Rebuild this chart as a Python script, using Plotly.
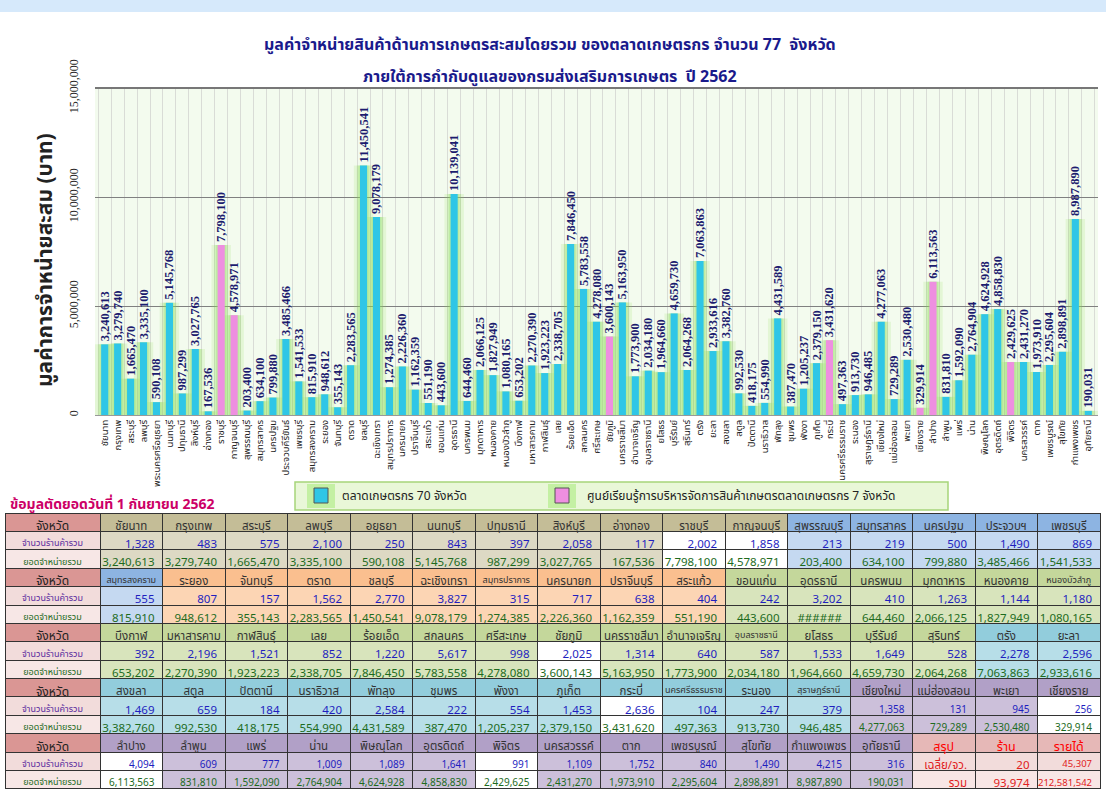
import plotly.graph_objects as go

W, H = 1106, 801

axis_names = ["ชัยนาท", "กรุงเทพ", "สระบุรี", "ลพบุรี", "พระนครศรีอยุธยา", "นนทบุรี", "ปทุมธานี", "สิงห์บุรี",
              "อ่างทอง", "ราชบุรี", "กาญจนบุรี", "สุพรรณบุรี", "สมุทรสาคร", "นครปฐม", "ประจวบคีรีขันธ์", "เพชรบุรี",
              "สมุทรสงคราม", "ระยอง", "จันทบุรี", "ตราด", "ชลบุรี", "ฉะเชิงเทรา", "สมุทรปราการ", "นครนายก",
              "ปราจีนบุรี", "สระแก้ว", "ขอนแก่น", "อุดรธานี", "นครพนม", "มุกดาหาร", "หนองคาย", "หนองบัวลำภู",
              "บึงกาฬ", "มหาสารคาม", "กาฬสินธุ์", "เลย", "ร้อยเอ็ด", "สกลนคร", "ศรีสะเกษ", "ชัยภูมิ",
              "นครราชสีมา", "อำนาจเจริญ", "อุบลราชธานี", "ยโสธร", "บุรีรัมย์", "สุรินทร์", "ตรัง", "ยะลา",
              "สงขลา", "สตูล", "ปัตตานี", "นราธิวาส", "พัทลุง", "ชุมพร", "พังงา", "ภูเก็ต",
              "กระบี่", "นครศรีธรรมราช", "ระนอง", "สุราษฎร์ธานี", "เชียงใหม่", "แม่ฮ่องสอน", "พะเยา", "เชียงราย",
              "ลำปาง", "ลำพูน", "แพร่", "น่าน", "พิษณุโลก", "อุตรดิตถ์", "พิจิตร", "นครสวรรค์",
              "ตาก", "เพชรบูรณ์", "สุโขทัย", "กำแพงเพชร", "อุทัยธานี"]

table_names = ["ชัยนาท", "กรุงเทพ", "สระบุรี", "ลพบุรี", "อยุธยา", "นนทบุรี", "ปทุมธานี", "สิงห์บุรี",
               "อ่างทอง", "ราชบุรี", "กาญจนบุรี", "สุพรรณบุรี", "สมุทรสาคร", "นครปฐม", "ประจวบฯ", "เพชรบุรี",
               "สมุทรสงคราม", "ระยอง", "จันทบุรี", "ตราด", "ชลบุรี", "ฉะเชิงเทรา", "สมุทรปราการ", "นครนายก",
               "ปราจีนบุรี", "สระแก้ว", "ขอนแก่น", "อุดรธานี", "นครพนม", "มุกดาหาร", "หนองคาย", "หนองบัวลำภู",
               "บึงกาฬ", "มหาสารคาม", "กาฬสินธุ์", "เลย", "ร้อยเอ็ด", "สกลนคร", "ศรีสะเกษ", "ชัยภูมิ",
               "นครราชสีมา", "อำนาจเจริญ", "อุบลราชธานี", "ยโสธร", "บุรีรัมย์", "สุรินทร์", "ตรัง", "ยะลา",
               "สงขลา", "สตูล", "ปัตตานี", "นราธิวาส", "พัทลุง", "ชุมพร", "พังงา", "ภูเก็ต",
               "กระบี่", "นครศรีธรรมราช", "ระนอง", "สุราษฎร์ธานี", "เชียงใหม่", "แม่ฮ่องสอน", "พะเยา", "เชียงราย",
               "ลำปาง", "ลำพูน", "แพร่", "น่าน", "พิษณุโลก", "อุตรดิตถ์", "พิจิตร", "นครสวรรค์",
               "ตาก", "เพชรบูรณ์", "สุโขทัย", "กำแพงเพชร", "อุทัยธานี"]

shops = [1328, 483, 575, 2100, 250, 843, 397, 2058, 117, 2002, 1858, 213, 219, 500, 1490, 869,
         555, 807, 157, 1562, 2770, 3827, 315, 717, 638, 404, 242, 3202, 410, 1263, 1144, 1180,
         392, 2196, 1521, 852, 1220, 5617, 998, 2025, 1314, 640, 587, 1533, 1649, 528, 2278, 2596,
         1469, 659, 184, 420, 2584, 222, 554, 1453, 2636, 104, 247, 379, 1358, 131, 945, 256,
         4094, 609, 777, 1009, 1089, 1641, 991, 1109, 1752, 840, 1490, 4215, 316]

sales = [3240613, 3279740, 1665470, 3335100, 590108, 5145768, 987299, 3027765, 167536, 7798100, 4578971,
         203400, 634100, 799880, 3485466, 1541533,
         815910, 948612, 355143, 2283565, 11450541, 9078179, 1274385, 2226360, 1162359, 551190, 443600,
         10139041, 644460, 2066125, 1827949, 1080165,
         653202, 2270390, 1923223, 2338705, 7846450, 5783558, 4278080, 3600143, 5163950, 1773900, 2034180,
         1964660, 4659730, 2064268, 7063863, 2933616,
         3382760, 992530, 418175, 554990, 4431589, 387470, 1205237, 2379150, 3431620, 497363, 913730,
         946485, 4277063, 729289, 2530480, 329914,
         6113563, 831810, 1592090, 2764904, 4624928, 4858830, 2429625, 2431270, 1973910, 2295604,
         2898891, 8987890, 190031]

# region of each province (table colouring) and learning-centre flag (pink bars)
region = ["c"] * 11 + ["w"] * 6 + ["e"] * 9 + ["ne"] * 20 + ["s"] * 14 + ["n"] * 17
centre = {"ราชบุรี", "กาญจนบุรี", "ชัยภูมิ", "กระบี่", "เชียงราย", "ลำปาง", "พิจิตร"}
overflow_cells = {"อุดรธานี"}  # shown as ###### in the table

summary_head = ["สรุป", "ร้าน", "รายได้"]
summary_row1 = ["เฉลี่ย/จว.", "20", "45,307"]
summary_row2 = ["รวม", "93,974", "212,581,542"]

row_labels = ["จังหวัด", "จำนวนร้านค้ารวม", "ยอดจำหน่ายรวม"]

title1 = "มูลค่าจำหน่ายสินค้าด้านการเกษตรสะสมโดยรวม ของตลาดเกษตรกร จำนวน 77  จังหวัด"
title2 = "ภายใต้การกำกับดูแลของกรมส่งเสริมการเกษตร  ปี 2562"
ytitle = "มูลค่าการจำหน่ายสะสม (บาท)"
cutoff = "ข้อมูลตัดยอดวันที่ 1 กันยายน 2562"
leg1 = "ตลาดเกษตรกร 70 จังหวัด"
leg2 = "ศูนย์เรียนรู้การบริหารจัดการสินค้าเกษตรตลาดเกษตรกร 7 จังหวัด"

FONT = "Tahoma, 'Noto Sans Thai', 'Noto Sans', 'DejaVu Sans', sans-serif"
SERIF = "'Times New Roman', 'Liberation Serif', serif"
CYAN = "#2fc6e6"
PINK = "#ee8fe0"

def px_x(x):
    return x / W

def px_y(y):
    return 1 - y / H

bar_colors = [PINK if n in centre else CYAN for n in table_names]

fig = go.Figure()
# soft green glow behind bars (layers)
for wdt, alpha in [(1.5, 0.16), (1.05, 0.22), (0.8, 0.25)]:
    fig.add_trace(go.Bar(x=axis_names, y=sales, width=wdt,
                         marker=dict(color=f"rgba(140,225,90,{alpha})", line=dict(width=0)),
                         hoverinfo="skip", showlegend=False))
fig.add_trace(go.Bar(x=axis_names, y=sales, width=0.55,
                     marker=dict(color=bar_colors, line=dict(width=0)),
                     text=[f"{v:,}" for v in sales], textposition="outside", textangle=-90,
                     constraintext="none", cliponaxis=False,
                     textfont=dict(family=SERIF, size=12.5, color="#1c1c6e", weight="bold"),
                     showlegend=False))

x0, x1 = px_x(95), px_x(1098)
fig.update_layout(
    width=W, height=H, margin=dict(l=0, r=0, t=0, b=0),
    paper_bgcolor="white", plot_bgcolor="#f3fbee",
    barmode="overlay", font=dict(family=FONT),
    xaxis=dict(domain=[x0, x1], type="category", tickangle=-90, tickfont=dict(size=9.5, color="#222"),
               showgrid=True, gridcolor="#d9dcd6", tickson="boundaries", ticks="", automargin=False,
               showline=True, linecolor="#999", fixedrange=True),
    yaxis=dict(domain=[px_y(415), px_y(88)], range=[0, 15000000], tickvals=[0, 5000000, 10000000, 15000000],
               tickformat=",d", tickangle=-90, tickfont=dict(size=12, color="#222", family=SERIF),
               ticklabelstandoff=14,
               gridcolor="#808080", gridwidth=1, automargin=False, showline=False, zeroline=False,
               fixedrange=True),
)

# top band
fig.add_shape(type="rect", xref="paper", yref="paper", x0=0, x1=1, y0=px_y(12), y1=1,
              fillcolor="#d6e9fb", line=dict(width=0), layer="below")
# top border line of plot
fig.add_shape(type="line", xref="paper", yref="paper", x0=x0, x1=x1, y0=px_y(88), y1=px_y(88),
              line=dict(color="#777", width=2))

def note(text, x, y, size, color, xanchor="center", angle=0, family=FONT):
    return dict(text=text, x=px_x(x), y=px_y(y), xref="paper", yref="paper", xanchor=xanchor,
                yanchor="middle", showarrow=False, textangle=angle,
                font=dict(size=size, color=color, family=family))

ann = [
    note(f"<b>{title1}</b>", 550, 45, 16, "#1a1a8c"),
    note(f"<b>{title2}</b>", 550, 77, 16, "#1a1a8c"),
    note(f"<b>{ytitle}</b>", 45, 260, 21, "#222", angle=-90),
    note(f"<b>{cutoff}</b>", 8, 504, 14, "#cc0066", xanchor="left"),
    note(leg1, 340, 496, 12, "#222", xanchor="left"),
    note(leg2, 585, 496, 12, "#222", xanchor="left"),
]

# legend box
fig.add_shape(type="rect", xref="paper", yref="paper", x0=px_x(295), x1=px_x(948), y0=px_y(510), y1=px_y(482),
              fillcolor="#e9f7d8", line=dict(color="#a6d57a", width=1.5))
for cx, col in [(321, CYAN), (562, PINK)]:
    fig.add_shape(type="rect", xref="paper", yref="paper", x0=px_x(cx - 14), x1=px_x(cx + 14),
                  y0=px_y(508), y1=px_y(484), fillcolor="rgba(150,230,100,0.45)", line=dict(width=0))
    fig.add_shape(type="rect", xref="paper", yref="paper", x0=px_x(cx - 7), x1=px_x(cx + 7),
                  y0=px_y(503), y1=px_y(488), fillcolor=col, line=dict(color="#555", width=1))
fig.update_layout(annotations=ann)

# ---------- table: one Table trace per block (header = names, cells = counts & sales) ----------
head_fill = {"c": "#c4bd97", "w": "#8db4e2", "e": "#fabf8f", "ne": "#c4d79b", "s": "#92cddc", "n": "#b1a0c7"}
data_fill = {"c": "#ddd9c4", "w": "#c5d9f1", "e": "#fcd5b4", "ne": "#d8e4bc", "s": "#b7dee8", "n": "#ccc0da"}

ROWH = 18.4
TOP = 513
BLOCK = 3 * ROWH
for b in range(5):
    idxs = list(range(16 * b, min(16 * b + 16, len(table_names))))
    h_vals = [row_labels[0]]
    h_fill = ["#da9694"]
    h_fc = ["#222"]
    h_size = [12]
    c_vals = [[row_labels[1], row_labels[2]]]
    c_fill = [["#f2dcdb", "#f7e7e6"]]
    c_fc = [["#5b2d9e", "#1d6b1d"]]
    c_align = ["center"]
    c_size = [9]
    for i in idxs:
        nm = table_names[i]
        rg = region[i]
        df = "white" if nm in centre else data_fill[rg]
        h_vals.append(nm)
        h_fill.append(head_fill[rg])
        h_fc.append("#333")
        h_size.append(9 if len(nm) > 10 else 11.5)
        c_vals.append([f"{shops[i]:,}", "######" if nm in overflow_cells else f"{sales[i]:,}"])
        c_fill.append([df, df])
        c_fc.append(["#1f1fbf", "#1d6b1d"])
        c_align.append("right")
        c_size.append(10 if rg == "n" else 11.5)
    if len(idxs) < 16:
        for k in range(3):
            h_vals.append(summary_head[k])
            h_fill.append("#e6b8b7")
            h_fc.append("#ff0000")
            h_size.append(12.5)
            c_vals.append([summary_row1[k], summary_row2[k]])
            c_fill.append(["#f2dcdb", "#f8e6e5"])
            c_fc.append(["#e02020", "#e02020"])
            c_align.append("right")
            c_size.append(9.5 if k == 2 else 11.5)
    y_top = TOP + BLOCK * b
    fig.add_trace(go.Table(
        domain=dict(x=[px_x(5), px_x(1100)], y=[px_y(y_top + BLOCK + 1), px_y(y_top)]),
        columnwidth=[95] + [62.5] * 16,
        header=dict(values=h_vals, fill_color=h_fill, align="center", height=ROWH,
                    font=dict(color=h_fc, size=h_size, family=FONT),
                    line=dict(color="#333", width=1)),
        cells=dict(values=c_vals, fill_color=c_fill, align=c_align, height=ROWH,
                   font=dict(color=c_fc, size=c_size, family=FONT),
                   line=dict(color="#333", width=1)),
    ))

fig.write_html("out.html", config={"displayModeBar": False},
               post_script="document.body.style.margin='0px';")
